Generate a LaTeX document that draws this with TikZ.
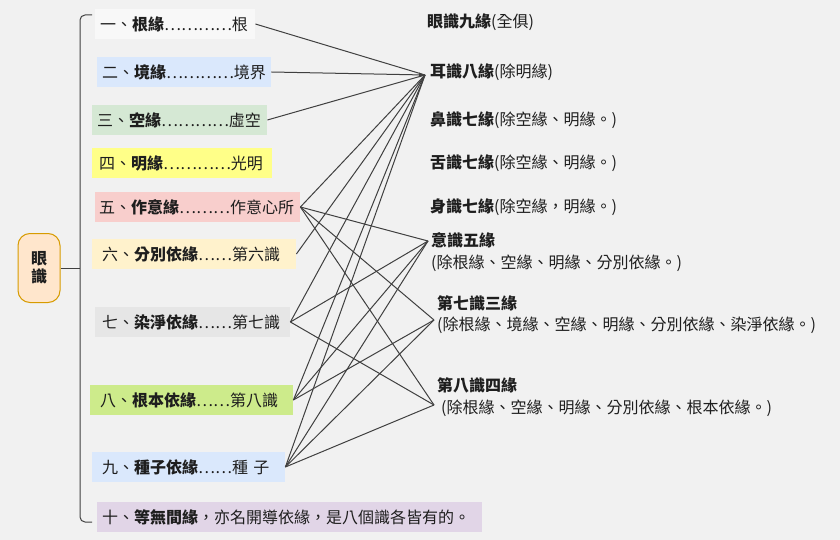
\documentclass[tikz,border=0pt]{standalone}
\usepackage{fontspec}
\setmainfont{Noto Sans CJK TC}
\usetikzlibrary{arrows.meta}
\definecolor{bg}{HTML}{F1F1F1}
\definecolor{ink}{HTML}{1E1E1E}
\definecolor{linec}{HTML}{404040}
\definecolor{cwhite}{HTML}{F8F8F8}
\definecolor{cblue}{HTML}{DAE8FC}
\definecolor{cgreen}{HTML}{D5E8D4}
\definecolor{cyellow}{HTML}{FFFF88}
\definecolor{cpink}{HTML}{F8CECC}
\definecolor{ccream}{HTML}{FFF2CC}
\definecolor{cgray}{HTML}{E6E6E6}
\definecolor{clime}{HTML}{CDEB8B}
\definecolor{clav}{HTML}{E1D5E7}
\definecolor{eyefill}{HTML}{FFE6CC}
\definecolor{eyedraw}{HTML}{D79B00}
\begin{document}
\begin{tikzpicture}[x=1pt,y=-1pt,
  every node/.style={font=\fontsize{16}{20}\selectfont, text=ink},
  item/.style={anchor=west, minimum height=30pt, inner ysep=0pt, align=left},
  title/.style={anchor=west, inner sep=0pt},
  link/.style={draw=linec, line width=1pt},
  brk/.style={draw=linec, line width=1pt, rounded corners=5pt},
  eyebox/.style={draw=eyedraw, fill=eyefill, line width=1pt, rounded corners=12pt,
    minimum width=42pt, minimum height=69pt, align=center, inner sep=0pt}]
\fill[bg] (0,0) rectangle (840,540);
\useasboundingbox (0,0) rectangle (840,540);

% root node and bracket
\node[eyebox] (eye) at (39,268) {\textbf{眼}\\[-2pt]\textbf{識}};
\draw[brk] (92,15) -- (80,15) -- (80,522) -- (92,522);
\draw[link] (eye.east) -- (80,268);

% conditions
\node[item, fill=cwhite, inner xsep=5pt, text width=150pt] (e1) at (95,24) {一、\textbf{根緣}…………根};
\node[item, fill=cblue, inner xsep=5pt, text width=164pt] (e2) at (97,72) {二、\textbf{境緣}…………境界};
\node[item, fill=cgreen, inner xsep=5pt, text width=165pt] (e3) at (92,120) {三、\textbf{空緣}…………虛空};
\node[item, fill=cyellow, inner xsep=7pt, text width=166pt] (e4) at (92,163) {四、\textbf{明緣}…………光明};
\node[item, fill=cpink, inner xsep=4pt, text width=197pt] (e5) at (95,207) {五、\textbf{作意緣}………作意心所};
\node[item, fill=ccream, inner xsep=10pt, text width=184pt] (e6) at (92,254) {六、\textbf{分別依緣}……第六識};
\node[item, fill=cgray, inner xsep=7pt, text width=181pt] (e7) at (95,322) {七、\textbf{染淨依緣}……第七識};
\node[item, fill=clime, inner xsep=10pt, text width=183pt] (e8) at (90,400) {八、\textbf{根本依緣}……第八識};
\node[item, fill=cblue, inner xsep=10pt, text width=173pt] (e9) at (92,467) {九、\textbf{種子依緣}……種 子};
\node[item, fill=clav, inner xsep=5pt, text width=375pt] (e10) at (97,517) {十、\textbf{等無間緣}，亦名開導依緣，是八個識各皆有的。};

% consciousness labels
\node[title] (r1) at (427,22) {\textbf{眼識九緣}(全俱)};
\node[title] (r2) at (430,72) {\textbf{耳識八緣}(除明緣)};
\node[title] (r3) at (430,120) {\textbf{鼻識七緣}(除空緣、明緣。)};
\node[title] (r4) at (430,163) {\textbf{舌識七緣}(除空緣、明緣。)};
\node[title] (r5) at (430,207) {\textbf{身識七緣}(除空緣，明緣。)};
\node[title] (r6) at (431,240) {\textbf{意識五緣}};
\node[title] (r6s) at (431,263) {(除根緣、空緣、明緣、分別依緣。)};
\node[title] (r7) at (437,303) {\textbf{第七識三緣}};
\node[title] (r7s) at (437,325) {(除根緣、境緣、空緣、明緣、分別依緣、染淨依緣。)};
\node[title] (r8) at (437,385) {\textbf{第八識四緣}};
\node[title] (r8s) at (441,408) {(除根緣、空緣、明緣、分別依緣、根本依緣。)};

% hubs
\coordinate (hear) at (425,75);
\coordinate (hyi) at (428,241);
\coordinate (hqi) at (434,320);
\coordinate (hba) at (434,405);

% connectors
\foreach \s in {e1,e3,e5,e6,e7,e8,e9} \draw[link] (\s.east) -- (hear);
\draw[link, -{Latex[length=6pt,width=5pt]}] (e2.east) -- (hear);
\foreach \s in {e5,e7,e8,e9} \draw[link] (\s.east) -- (hyi);
\foreach \s in {e5,e8,e9} \draw[link] (\s.east) -- (hqi);
\foreach \s in {e5,e7,e9} \draw[link] (\s.east) -- (hba);
\end{tikzpicture}
\end{document}
